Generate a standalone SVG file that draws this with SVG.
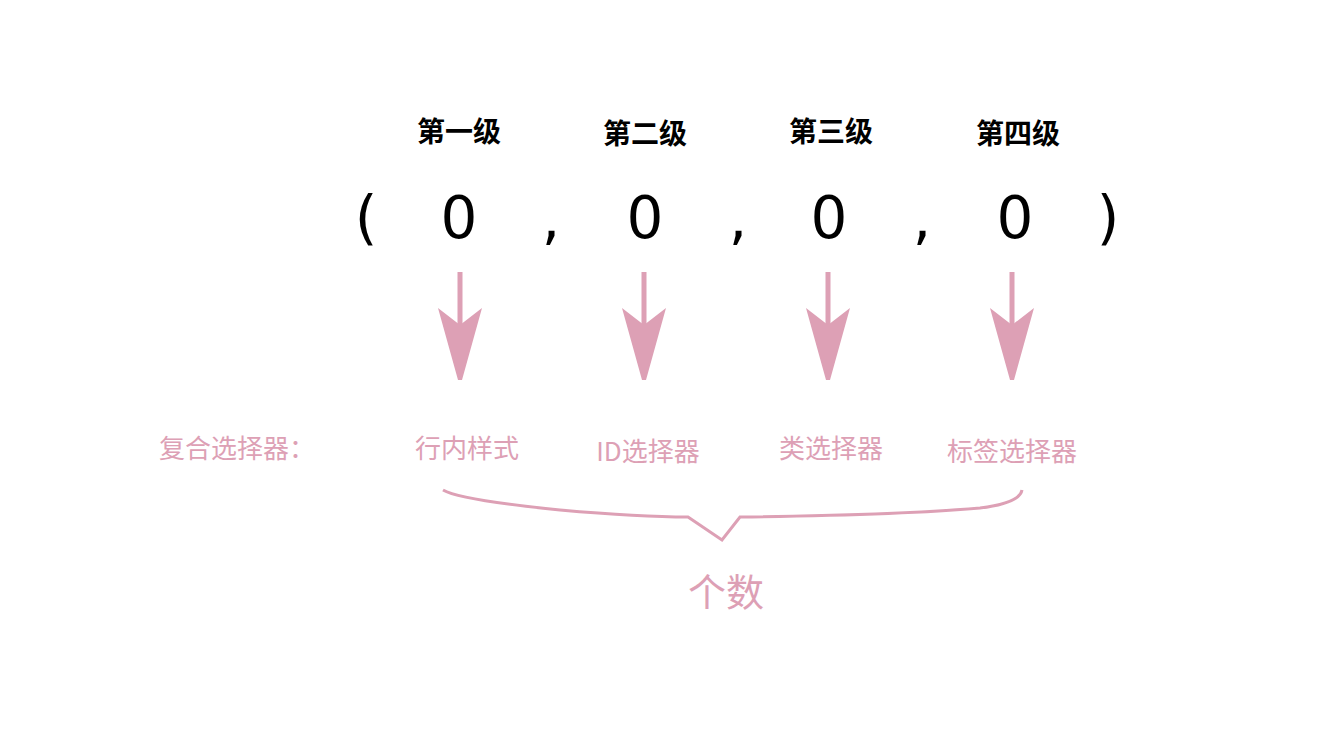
<svg xmlns="http://www.w3.org/2000/svg" width="1330" height="734" viewBox="0 0 1330 734">
<style>
.lvl{font-family:"Noto Sans CJK SC",sans-serif;font-size:28px;font-weight:bold;fill:#000;text-anchor:middle}
.num{font-family:"DejaVu Sans",sans-serif;font-size:58px;fill:#000;text-anchor:middle}
.lab{font-family:"Noto Sans CJK SC",sans-serif;font-size:26px;fill:#dda0b5;text-anchor:middle}
.big{font-family:"Noto Sans CJK SC",sans-serif;font-size:38px;fill:#dda0b5;text-anchor:middle}
</style>
<defs>
<g id="arr" fill="#dda0b5">
<rect x="-2.5" y="272" width="5" height="56"/>
<path d="M-22,308 L0,325 L22,308 L2,380 L-2,380 Z"/>
</g>
</defs>
<rect width="1330" height="734" fill="#fff"/>
<g id="levels">
<text class="lvl" x="459" y="142">第一级</text>
<text class="lvl" x="645" y="144">第二级</text>
<text class="lvl" x="831" y="142">第三级</text>
<text class="lvl" x="1018" y="144">第四级</text>
</g>
<g id="tuple">
<text class="num" x="366" y="238">(</text>
<text class="num" x="459" y="238">0</text>
<text class="num" x="551" y="238">,</text>
<text class="num" x="645" y="238">0</text>
<text class="num" x="738" y="238">,</text>
<text class="num" x="829" y="238">0</text>
<text class="num" x="922" y="238">,</text>
<text class="num" x="1015" y="238">0</text>
<text class="num" x="1108" y="238">)</text>
</g>
<g id="connectors">
<use href="#arr" x="460"/>
<use href="#arr" x="644"/>
<use href="#arr" x="828"/>
<use href="#arr" x="1012"/>
<path d="M443,490 Q460,500 560,510 Q640,517 688,517 L722,540 L740,517 Q900,515 980,508 Q1020,503 1022,490" fill="none" stroke="#dda0b5" stroke-width="3"/>
</g>
<g id="labels">
<text class="lab" x="237" y="458">复合选择器：</text>
<text class="lab" x="467" y="458">行内样式</text>
<text class="lab" x="648" y="461">ID选择器</text>
<text class="lab" x="831" y="458">类选择器</text>
<text class="lab" x="1012" y="461">标签选择器</text>
<text class="big" x="726" y="606">个数</text>
</g>
</svg>
